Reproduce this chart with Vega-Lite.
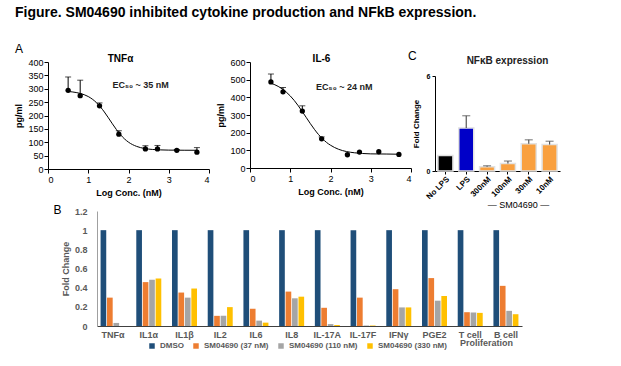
{
  "$schema": "https://vega.github.io/schema/vega-lite/v6.json",
  "padding": {"left": 14, "top": 6, "right": 5, "bottom": 0},
  "title": {"text": "Figure. SM04690 inhibited cytokine production and NFkB expression.", "anchor": "start", "fontSize": 14, "fontWeight": "bold", "color": "black", "offset": 23, "frame": "bounds"},
  "resolve": {"scale": {"color": "independent"}},
  "spacing": -6,
  "config": {
    "font": "Liberation Sans",
    "view": {"stroke": null},
    "axis": {"grid": false, "domainColor": "black", "tickColor": "black", "labelColor": "black", "titleColor": "black", "labelFontSize": 9, "titleFontSize": 9, "titleFontWeight": "bold", "labelOverlap": false}
  },
  "datasets": {
    "tnfPts": [
      {"x": 0.5, "y": 294, "err": 344}, {"x": 0.8, "y": 274, "err": 332}, {"x": 1.28, "y": 236, "err": 247}, {"x": 1.76, "y": 130, "err": 143},
      {"x": 2.42, "y": 75, "err": 87}, {"x": 2.72, "y": 75, "err": 88}, {"x": 3.2, "y": 70, "err": 73}, {"x": 3.7, "y": 63, "err": 80}
    ],
    "tnfCurve": [
      {"x": 0.5, "y": 289.8}, {"x": 0.7, "y": 285.9}, {"x": 0.9, "y": 277.7}, {"x": 1.0, "y": 270.9}, {"x": 1.1, "y": 261.3}, {"x": 1.2, "y": 248.7},
      {"x": 1.3, "y": 232.5}, {"x": 1.4, "y": 213.1}, {"x": 1.5, "y": 191.4}, {"x": 1.6, "y": 168.9}, {"x": 1.7, "y": 147.4}, {"x": 1.8, "y": 128.3},
      {"x": 1.9, "y": 112.6}, {"x": 2.0, "y": 100.3}, {"x": 2.2, "y": 84.6}, {"x": 2.4, "y": 76.7}, {"x": 2.6, "y": 73.0}, {"x": 2.8, "y": 71.4},
      {"x": 3.0, "y": 70.6}, {"x": 3.4, "y": 70.1}, {"x": 3.7, "y": 70.0}
    ],
    "il6Pts": [
      {"x": 0.52, "y": 487, "err": 532}, {"x": 0.82, "y": 431, "err": 456}, {"x": 1.3, "y": 322, "err": 352}, {"x": 1.78, "y": 165, "err": 176},
      {"x": 2.42, "y": 75, "err": null}, {"x": 2.72, "y": 90, "err": null}, {"x": 3.2, "y": 92, "err": null}, {"x": 3.7, "y": 77, "err": null}
    ],
    "il6Curve": [
      {"x": 0.5, "y": 481}, {"x": 0.6, "y": 473}, {"x": 0.7, "y": 462}, {"x": 0.8, "y": 448}, {"x": 0.9, "y": 430}, {"x": 1.0, "y": 408},
      {"x": 1.1, "y": 382}, {"x": 1.2, "y": 352}, {"x": 1.3, "y": 319}, {"x": 1.4, "y": 285}, {"x": 1.5, "y": 251}, {"x": 1.6, "y": 219},
      {"x": 1.7, "y": 190}, {"x": 1.8, "y": 166}, {"x": 1.9, "y": 145}, {"x": 2.0, "y": 129}, {"x": 2.2, "y": 106}, {"x": 2.4, "y": 93},
      {"x": 2.6, "y": 86}, {"x": 2.8, "y": 82}, {"x": 3.0, "y": 80}, {"x": 3.4, "y": 79}, {"x": 3.7, "y": 78}
    ],
    "nfkb": [
      {"cond": "No LPS", "v": 0.98, "err": null},
      {"cond": "LPS", "v": 2.72, "err": 3.49},
      {"cond": "300nM", "v": 0.27, "err": 0.33},
      {"cond": "100nM", "v": 0.48, "err": 0.63},
      {"cond": "30nM", "v": 1.72, "err": 1.97},
      {"cond": "10nM", "v": 1.67, "err": 1.88}
    ],
    "cyto": [
      {"cat": "TNFα", "s": "DMSO", "v": 1}, {"cat": "TNFα", "s": "SM04690 (37 nM)", "v": 0.296}, {"cat": "TNFα", "s": "SM04690 (110 nM)", "v": 0.032}, {"cat": "TNFα", "s": "SM04690 (330 nM)", "v": 0.0},
      {"cat": "IL1α", "s": "DMSO", "v": 1}, {"cat": "IL1α", "s": "SM04690 (37 nM)", "v": 0.458}, {"cat": "IL1α", "s": "SM04690 (110 nM)", "v": 0.482}, {"cat": "IL1α", "s": "SM04690 (330 nM)", "v": 0.496},
      {"cat": "IL1β", "s": "DMSO", "v": 1}, {"cat": "IL1β", "s": "SM04690 (37 nM)", "v": 0.349}, {"cat": "IL1β", "s": "SM04690 (110 nM)", "v": 0.296}, {"cat": "IL1β", "s": "SM04690 (330 nM)", "v": 0.391},
      {"cat": "IL2", "s": "DMSO", "v": 1}, {"cat": "IL2", "s": "SM04690 (37 nM)", "v": 0.106}, {"cat": "IL2", "s": "SM04690 (110 nM)", "v": 0.106}, {"cat": "IL2", "s": "SM04690 (330 nM)", "v": 0.197},
      {"cat": "IL6", "s": "DMSO", "v": 1}, {"cat": "IL6", "s": "SM04690 (37 nM)", "v": 0.18}, {"cat": "IL6", "s": "SM04690 (110 nM)", "v": 0.056}, {"cat": "IL6", "s": "SM04690 (330 nM)", "v": 0.035},
      {"cat": "IL8", "s": "DMSO", "v": 1}, {"cat": "IL8", "s": "SM04690 (37 nM)", "v": 0.359}, {"cat": "IL8", "s": "SM04690 (110 nM)", "v": 0.289}, {"cat": "IL8", "s": "SM04690 (330 nM)", "v": 0.306},
      {"cat": "IL-17A", "s": "DMSO", "v": 1}, {"cat": "IL-17A", "s": "SM04690 (37 nM)", "v": 0.19}, {"cat": "IL-17A", "s": "SM04690 (110 nM)", "v": 0.02}, {"cat": "IL-17A", "s": "SM04690 (330 nM)", "v": 0.01},
      {"cat": "IL-17F", "s": "DMSO", "v": 1}, {"cat": "IL-17F", "s": "SM04690 (37 nM)", "v": 0.296}, {"cat": "IL-17F", "s": "SM04690 (110 nM)", "v": 0.005}, {"cat": "IL-17F", "s": "SM04690 (330 nM)", "v": 0.005},
      {"cat": "IFNγ", "s": "DMSO", "v": 1}, {"cat": "IFNγ", "s": "SM04690 (37 nM)", "v": 0.384}, {"cat": "IFNγ", "s": "SM04690 (110 nM)", "v": 0.194}, {"cat": "IFNγ", "s": "SM04690 (330 nM)", "v": 0.194},
      {"cat": "PGE2", "s": "DMSO", "v": 1}, {"cat": "PGE2", "s": "SM04690 (37 nM)", "v": 0.5}, {"cat": "PGE2", "s": "SM04690 (110 nM)", "v": 0.264}, {"cat": "PGE2", "s": "SM04690 (330 nM)", "v": 0.313},
      {"cat": "T cell", "s": "DMSO", "v": 1}, {"cat": "T cell", "s": "SM04690 (37 nM)", "v": 0.144}, {"cat": "T cell", "s": "SM04690 (110 nM)", "v": 0.141}, {"cat": "T cell", "s": "SM04690 (330 nM)", "v": 0.137},
      {"cat": "B cell", "s": "DMSO", "v": 1}, {"cat": "B cell", "s": "SM04690 (37 nM)", "v": 0.419}, {"cat": "B cell", "s": "SM04690 (110 nM)", "v": 0.158}, {"cat": "B cell", "s": "SM04690 (330 nM)", "v": 0.123}
    ]
  },
  "vconcat": [
    {
      "spacing": -4,
      "resolve": {"scale": {"color": "independent"}},
      "hconcat": [
        {
          "title": {"text": "A", "anchor": "start", "fontSize": 12, "fontWeight": "normal", "color": "black", "offset": -2, "frame": "bounds"},
          "spacing": 6,
          "hconcat": [
            {
              "width": 161, "height": 107,
              "title": {"text": "TNFα", "fontSize": 10, "fontWeight": "bold", "color": "black", "offset": -6, "frame": "group", "dx": -8},
              "layer": [
                {"data": {"name": "tnfCurve"}, "mark": {"type": "line", "color": "black", "strokeWidth": 1, "interpolate": "monotone"},
                 "encoding": {
                   "x": {"field": "x", "type": "quantitative", "scale": {"domain": [0, 4]}, "axis": {"values": [0, 1, 2, 3, 4], "title": "Log Conc. (nM)", "tickSize": 4, "labelPadding": 2, "titlePadding": 4}},
                   "y": {"field": "y", "type": "quantitative", "scale": {"domain": [0, 400]}, "axis": {"values": [0, 50, 100, 150, 200, 250, 300, 350, 400], "title": "pg/ml", "tickSize": 4, "labelPadding": 1, "titlePadding": 4}}
                 }},
                {"data": {"name": "tnfPts"}, "mark": {"type": "rule", "color": "black", "strokeWidth": 1},
                 "encoding": {
                   "x": {"field": "x", "type": "quantitative", "scale": {"domain": [0, 4]}, "axis": {"values": [0, 1, 2, 3, 4], "title": "Log Conc. (nM)", "tickSize": 4, "labelPadding": 2, "titlePadding": 4}},
                   "y": {"field": "y", "type": "quantitative", "scale": {"domain": [0, 400]}, "axis": {"values": [0, 50, 100, 150, 200, 250, 300, 350, 400], "title": "pg/ml", "tickSize": 4, "labelPadding": 1, "titlePadding": 4}},
                   "y2": {"field": "err"}}},
                {"data": {"name": "tnfPts"}, "mark": {"type": "tick", "orient": "horizontal", "color": "black", "size": 6, "thickness": 1},
                 "encoding": {
                   "x": {"field": "x", "type": "quantitative", "scale": {"domain": [0, 4]}, "axis": {"values": [0, 1, 2, 3, 4], "title": "Log Conc. (nM)", "tickSize": 4, "labelPadding": 2, "titlePadding": 4}},
                   "y": {"field": "err", "type": "quantitative", "scale": {"domain": [0, 400]}, "axis": {"values": [0, 50, 100, 150, 200, 250, 300, 350, 400], "title": "pg/ml", "tickSize": 4, "labelPadding": 1, "titlePadding": 4}}}},
                {"data": {"name": "tnfPts"}, "mark": {"type": "point", "filled": true, "color": "black", "size": 28, "opacity": 1},
                 "encoding": {
                   "x": {"field": "x", "type": "quantitative", "scale": {"domain": [0, 4]}, "axis": {"values": [0, 1, 2, 3, 4], "title": "Log Conc. (nM)", "tickSize": 4, "labelPadding": 2, "titlePadding": 4}},
                   "y": {"field": "y", "type": "quantitative", "scale": {"domain": [0, 400]}, "axis": {"values": [0, 50, 100, 150, 200, 250, 300, 350, 400], "title": "pg/ml", "tickSize": 4, "labelPadding": 1, "titlePadding": 4}}}},
                {"data": {"values": [{"t": "EC₅₀ ~ 35 nM", "x": 1.6, "y": 314}]}, "mark": {"type": "text", "align": "left", "fontSize": 9, "fontWeight": "bold", "color": "#222"},
                 "encoding": {
                   "x": {"field": "x", "type": "quantitative", "scale": {"domain": [0, 4]}, "axis": {"values": [0, 1, 2, 3, 4], "title": "Log Conc. (nM)", "tickSize": 4, "labelPadding": 2, "titlePadding": 4}},
                   "y": {"field": "y", "type": "quantitative", "scale": {"domain": [0, 400]}, "axis": {"values": [0, 50, 100, 150, 200, 250, 300, 350, 400], "title": "pg/ml", "tickSize": 4, "labelPadding": 1, "titlePadding": 4}},
                   "text": {"field": "t"}}}
              ]
            },
            {
              "width": 161, "height": 106,
              "title": {"text": "IL-6", "fontSize": 10, "fontWeight": "bold", "color": "black", "offset": -6, "frame": "group", "dx": -9},
              "layer": [
                {"data": {"name": "il6Curve"}, "mark": {"type": "line", "color": "black", "strokeWidth": 1, "interpolate": "monotone"},
                 "encoding": {
                   "x": {"field": "x", "type": "quantitative", "scale": {"domain": [0, 4]}, "axis": {"values": [0, 1, 2, 3, 4], "title": "Log Conc. (nM)", "tickSize": 4, "labelPadding": 2, "titlePadding": 4}},
                   "y": {"field": "y", "type": "quantitative", "scale": {"domain": [0, 600]}, "axis": {"values": [0, 100, 200, 300, 400, 500, 600], "title": "pg/ml", "tickSize": 4, "labelPadding": 1, "titlePadding": 4}}
                 }},
                {"data": {"name": "il6Pts"}, "transform": [{"filter": "datum.err != null"}], "mark": {"type": "rule", "color": "black", "strokeWidth": 1},
                 "encoding": {
                   "x": {"field": "x", "type": "quantitative", "scale": {"domain": [0, 4]}, "axis": {"values": [0, 1, 2, 3, 4], "title": "Log Conc. (nM)", "tickSize": 4, "labelPadding": 2, "titlePadding": 4}},
                   "y": {"field": "y", "type": "quantitative", "scale": {"domain": [0, 600]}, "axis": {"values": [0, 100, 200, 300, 400, 500, 600], "title": "pg/ml", "tickSize": 4, "labelPadding": 1, "titlePadding": 4}},
                   "y2": {"field": "err"}}},
                {"data": {"name": "il6Pts"}, "transform": [{"filter": "datum.err != null"}], "mark": {"type": "tick", "orient": "horizontal", "color": "black", "size": 6, "thickness": 1},
                 "encoding": {
                   "x": {"field": "x", "type": "quantitative", "scale": {"domain": [0, 4]}, "axis": {"values": [0, 1, 2, 3, 4], "title": "Log Conc. (nM)", "tickSize": 4, "labelPadding": 2, "titlePadding": 4}},
                   "y": {"field": "err", "type": "quantitative", "scale": {"domain": [0, 600]}, "axis": {"values": [0, 100, 200, 300, 400, 500, 600], "title": "pg/ml", "tickSize": 4, "labelPadding": 1, "titlePadding": 4}}}},
                {"data": {"name": "il6Pts"}, "mark": {"type": "point", "filled": true, "color": "black", "size": 28, "opacity": 1},
                 "encoding": {
                   "x": {"field": "x", "type": "quantitative", "scale": {"domain": [0, 4]}, "axis": {"values": [0, 1, 2, 3, 4], "title": "Log Conc. (nM)", "tickSize": 4, "labelPadding": 2, "titlePadding": 4}},
                   "y": {"field": "y", "type": "quantitative", "scale": {"domain": [0, 600]}, "axis": {"values": [0, 100, 200, 300, 400, 500, 600], "title": "pg/ml", "tickSize": 4, "labelPadding": 1, "titlePadding": 4}}}},
                {"data": {"values": [{"t": "EC₅₀ ~ 24 nM", "x": 1.64, "y": 460}]}, "mark": {"type": "text", "align": "left", "fontSize": 9, "fontWeight": "bold", "color": "#222"},
                 "encoding": {
                   "x": {"field": "x", "type": "quantitative", "scale": {"domain": [0, 4]}, "axis": {"values": [0, 1, 2, 3, 4], "title": "Log Conc. (nM)", "tickSize": 4, "labelPadding": 2, "titlePadding": 4}},
                   "y": {"field": "y", "type": "quantitative", "scale": {"domain": [0, 600]}, "axis": {"values": [0, 100, 200, 300, 400, 500, 600], "title": "pg/ml", "tickSize": 4, "labelPadding": 1, "titlePadding": 4}},
                   "text": {"field": "t"}}}
              ]
            }
          ]
        },
        {
          "spacing": -10,
          "vconcat": [
            {"width": 10, "height": 1, "title": {"text": "C", "anchor": "start", "fontSize": 12, "fontWeight": "normal", "color": "black", "offset": -3, "frame": "group", "dx": -27},
             "data": {"values": [{}]}, "mark": {"type": "point", "opacity": 0}, "encoding": {}},
            {
              "width": 125, "height": 95,
              "title": {"text": "NFκB expression", "fontSize": 10, "fontWeight": "bold", "color": "#222", "offset": 6, "frame": "group", "dx": 10},
              "data": {"name": "nfkb"},
              "layer": [
                {"mark": {"type": "bar", "stroke": "#e2e2e2", "strokeWidth": 1.5},
                 "encoding": {
                   "x": {"field": "cond", "type": "nominal", "sort": ["No LPS", "LPS", "300nM", "100nM", "30nM", "10nM"], "scale": {"paddingInner": 0.28, "paddingOuter": 0.14},
                         "axis": {"labelAngle": -45, "labelFontSize": 8, "labelFontWeight": "bold", "tickSize": 3, "labelPadding": 1, "title": "— SM04690 —", "titleFontWeight": "normal", "titleFontSize": 9, "titleX": 83, "titlePadding": 0}},
                   "y": {"field": "v", "type": "quantitative", "scale": {"domain": [0, 6]}, "axis": {"values": [0, 2, 4, 6], "title": "Fold Change", "labelFontSize": 7, "labelFontWeight": "bold", "titleFontSize": 8, "tickSize": 3, "labelPadding": 2, "titlePadding": 6}},
                   "color": {"field": "cond", "type": "nominal", "scale": {"domain": ["No LPS", "LPS", "300nM", "100nM", "30nM", "10nM"], "range": ["#000000", "#0000c8", "#f9a03f", "#f9a03f", "#f9a03f", "#f9a03f"]}, "legend": null}
                 }},
                {"transform": [{"filter": "datum.err != null"}], "mark": {"type": "rule", "color": "#555", "strokeWidth": 1.2},
                 "encoding": {"x": {"field": "cond", "type": "nominal", "sort": ["No LPS", "LPS", "300nM", "100nM", "30nM", "10nM"]}, "y": {"field": "v", "type": "quantitative"}, "y2": {"field": "err"}}},
                {"transform": [{"filter": "datum.err != null"}], "mark": {"type": "tick", "orient": "horizontal", "color": "#555", "size": 8, "thickness": 1.2},
                 "encoding": {"x": {"field": "cond", "type": "nominal", "sort": ["No LPS", "LPS", "300nM", "100nM", "30nM", "10nM"]}, "y": {"field": "err", "type": "quantitative"}}}
              ]
            }
          ]
        }
      ]
    },
    {
      "spacing": 0,
      "hconcat": [
        {"width": 3, "height": 10, "data": {"values": [{}]}, "mark": {"type": "point", "opacity": 0}, "encoding": {}},
        {
          "width": 425, "height": 115,
          "title": {"text": "B", "anchor": "start", "fontSize": 12, "fontWeight": "normal", "color": "black", "offset": -10, "frame": "bounds", "dx": -8},
          "layer": [
            {"data": {"name": "cyto"}, "mark": {"type": "bar"},
             "encoding": {
               "x": {"field": "cat", "type": "nominal", "sort": ["TNFα", "IL1α", "IL1β", "IL2", "IL6", "IL8", "IL-17A", "IL-17F", "IFNγ", "PGE2", "T cell", "B cell"],
                     "scale": {"paddingInner": 0.3, "paddingOuter": 0.1},
                     "axis": {"labelAngle": 0, "title": null, "ticks": false, "labelPadding": 4, "labelColor": "#595959", "labelFontWeight": "bold", "labelFontSize": 9, "domainColor": "#404040"}},
               "xOffset": {"field": "s", "type": "nominal", "sort": ["DMSO", "SM04690 (37 nM)", "SM04690 (110 nM)", "SM04690 (330 nM)"], "scale": {"paddingInner": 0.12}},
               "y": {"field": "v", "type": "quantitative", "scale": {"domain": [0, 1.2], "nice": false},
                     "axis": {"tickCount": 6, "format": "~g", "title": "Fold Change", "ticks": false, "labelBound": false, "labelPadding": 10, "labelColor": "#595959", "labelFontWeight": "bold", "labelFontSize": 9, "titleColor": "#595959", "titleFontSize": 9, "domainColor": "#a0a0a0", "titlePadding": 4}},
               "color": {"field": "s", "type": "nominal", "sort": ["DMSO", "SM04690 (37 nM)", "SM04690 (110 nM)", "SM04690 (330 nM)"],
                         "scale": {"domain": ["DMSO", "SM04690 (37 nM)", "SM04690 (110 nM)", "SM04690 (330 nM)"], "range": ["#1f4e79", "#ed7d31", "#a5a5a5", "#ffc000"]},
                         "legend": {"orient": "none", "legendX": 100, "legendY": 131, "direction": "horizontal", "title": null, "symbolType": "square", "symbolSize": 30, "labelFontSize": 8, "labelFontWeight": "bold", "labelColor": "#595959", "columnPadding": 8}}
             }},
            {"data": {"values": [{"t": "Proliferation"}]}, "mark": {"type": "text", "fontSize": 9, "fontWeight": "bold", "color": "#595959"},
             "encoding": {
               "x": {"datum": "T cell", "bandPosition": 1.15},
               "y": {"datum": -0.18, "scale": {"domain": [0, 1.2], "nice": false}, "axis": {"tickCount": 6, "format": "~g", "title": "Fold Change", "ticks": false, "labelBound": false, "labelPadding": 10, "labelColor": "#595959", "labelFontWeight": "bold", "labelFontSize": 9, "titleColor": "#595959", "titleFontSize": 9, "domainColor": "#a0a0a0", "titlePadding": 4}},
               "text": {"field": "t"}}}
          ]
        }
      ]
    }
  ]
}
